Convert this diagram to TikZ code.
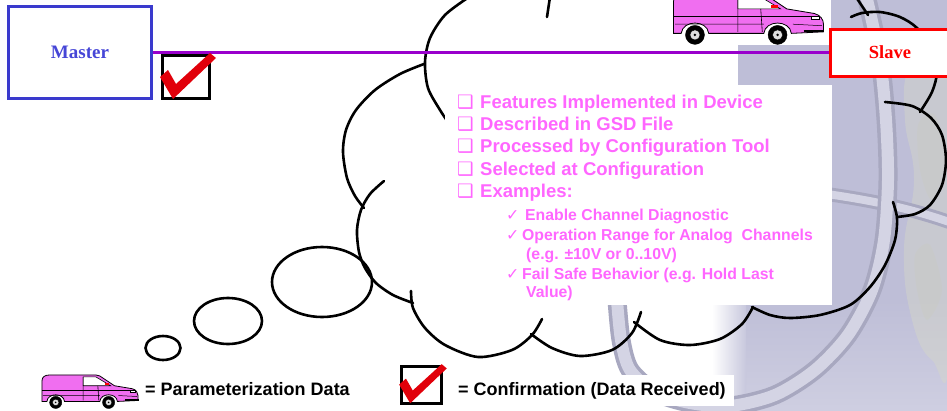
\documentclass[tikz,border=0pt]{standalone}
\usepackage{fontspec}
\setmainfont{Liberation Sans}
\newfontfamily\tnr{Liberation Serif}
\newfontfamily\dejavu{DejaVu Sans}

\definecolor{masterblue}{RGB}{58,58,205}
\definecolor{mastertext}{RGB}{70,70,215}
\definecolor{slavered}{RGB}{255,0,0}
\definecolor{busline}{RGB}{153,0,204}
\definecolor{itempink}{RGB}{255,102,255}
\definecolor{vanpink}{RGB}{240,110,240}
\definecolor{tickred}{RGB}{225,0,10}
\definecolor{lavender}{RGB}{190,190,215}
\definecolor{tubedark}{RGB}{168,168,192}
\definecolor{tubelight}{RGB}{212,212,228}
\definecolor{foam}{RGB}{214,216,200}

\begin{document}
\begin{tikzpicture}[x=1pt,y=-1pt,
  cloudline/.style={line width=2.6pt, black, line cap=round},
  bus/.style={line width=3pt, busline},
  masterbox/.style={draw=masterblue, line width=3pt, fill=white, minimum width=143pt,
    minimum height=92pt, inner sep=0pt, text=mastertext,
    font=\tnr\bfseries\fontsize{19}{20}\selectfont},
  slavebox/.style={draw=slavered, line width=3pt, fill=white, minimum width=119pt,
    minimum height=47pt, inner sep=0pt, text=slavered,
    font=\tnr\bfseries\fontsize{18.5}{20}\selectfont},
  tickbox/.style={draw=black, line width=3pt, fill=white, inner sep=0pt},
  item/.style={anchor=base west, inner sep=0pt, text=itempink,
    font=\fontsize{18.5}{20}\selectfont\bfseries},
  subitem/.style={item, font=\fontsize{15.8}{18}\selectfont\bfseries},
  legend/.style={anchor=base west, inner sep=0pt, text=black,
    font=\fontsize{18}{20}\selectfont\bfseries},
  tube/.style={line width=19pt, tubedark, line cap=round},
  tubecore/.style={line width=12pt, tubelight, line cap=round},
  tick/.pic={
    \fill[tickred] (-1,23) -- (7,16) -- (15,30) -- (49,-1) -- (55,4) -- (12,45) -- cycle;
  },
  van/.pic={
    % body
    \filldraw[fill=vanpink, draw=black, line width=0.8pt]
      (1,26) -- (1,8) .. controls (1,4) and (4,2) .. (9,2) -- (56,2) -- (60,3)
      -- (75,13) -- (93,16) .. controls (97,17) and (99,20) .. (99,23) -- (99,28)
      -- (78,29) .. controls (77,20) and (61,20) .. (60,29) -- (24,29)
      .. controls (23,20) and (7,20) .. (6,29) -- (1,29) -- cycle;
    % windows and door lines
    \filldraw[fill=white, draw=black, line width=0.6pt]
      (43,4) -- (56,4) -- (71,13) -- (43,13) -- cycle;
    \draw[line width=0.6pt] (43,4) -- (43,28) (58,13) -- (59,28);
    % side trim
    \draw[line width=0.9pt] (1,18) -- (96,18);
    \draw[line width=0.5pt] (2,23) -- (60,23) (79,23) -- (98,24);
    % headlight, bumper, mirror
    \filldraw[fill=white, draw=black, line width=0.5pt] (91,17.5) rectangle (96,20);
    \draw[line width=1.2pt] (86,27.5) -- (99.5,27.5);
    \fill[red] (65,10.5) rectangle (69,12.5);
    % wheels
    \foreach \wx in {15,69} {
      \filldraw[fill=black, draw=black] (\wx,30) circle[radius=6.2];
      \filldraw[fill=white!75!gray, draw=black, line width=0.4pt] (\wx,30) circle[radius=3.3];
      \fill[black] (\wx,30) circle[radius=0.9];
    }
  }
]
\clip (0,0) rectangle (947,410);
\fill[white] (0,0) rectangle (947,410);

% photo backdrop on the right
\fill[lavender] (738,0) rectangle (947,410);
\shade[top color=lavender, bottom color=lavender!75!white] (738,300) rectangle (947,410);
\shade[left color=white, right color=lavender!85!white] (712,305) rectangle (746,410);
\fill[foam, opacity=0.45] plot[smooth cycle, tension=0.8] coordinates
  {(908,70) (930,60) (950,70) (950,350) (932,360) (912,320) (904,250) (914,180) (905,120)};
\fill[foam!85!gray, opacity=0.3] plot[smooth cycle] coordinates
  {(918,125) (935,115) (945,160) (932,200) (920,170)};
\fill[foam!85!gray, opacity=0.3] plot[smooth cycle] coordinates
  {(915,255) (930,245) (942,290) (927,320) (917,290)};

% tubing
\draw[tube, line width=14pt] (820,193) .. controls (870,200) and (910,208) .. (955,224);
\draw[tubecore, line width=8pt] (820,193) .. controls (870,200) and (910,208) .. (955,224);
\draw[tube] plot[smooth] coordinates {(617,300) (621,340) (630,370) (655,392) (690,403)
  (730,406) (775,395) (815,370) (848,335) (872,290) (884,240) (888,180) (886,120)
  (880,60) (866,-5)};
\draw[tubecore] plot[smooth] coordinates {(617,300) (621,340) (630,370) (655,392) (690,403)
  (730,406) (775,395) (815,370) (848,335) (872,290) (884,240) (888,180) (886,120)
  (880,60) (866,-5)};

% van picture at the top
\fill[white] (668,0) rectangle (831,45);
\pic[scale=1.53] at (672,-11) {van};

% thought bubble
\draw[cloudline] plot[smooth] coordinates {(469,-3) (445,15) (430,38) (425,62) (428,88) (440,110) (452,128)};
\draw[cloudline] (550,-3) -- (547,17);
\draw[cloudline] plot[smooth] coordinates {(424,64) (400,74) (375,90) (356,110) (346,130) (343,152) (347,178) (355,196) (364,208)};
\draw[cloudline] plot[smooth] coordinates {(384,181) (370,194) (361,210) (357,230) (359,252) (365,268) (376,283) (393,295) (413,303)};
\draw[cloudline] plot[smooth] coordinates {(411,291) (413,308) (425,328) (445,345) (478,357) (512,350) (532,335) (542,319)};
\draw[cloudline] plot[smooth] coordinates {(531,334) (552,348) (580,356) (612,350) (632,333) (641,312)};
\draw[cloudline] plot[smooth] coordinates {(634,322) (660,340) (690,345) (720,339) (742,324) (753,307)};
\draw[cloudline] plot[smooth] coordinates {(752,307) (770,315) (790,318) (820,315) (850,305) (870,287) (885,265) (895,240) (897,218) (893,202)};
\draw[cloudline] plot[smooth] coordinates {(897,217) (915,214) (930,205) (942,185) (946,160) (942,135) (931,118) (912,106) (885,102)};
\draw[cloudline] plot[smooth] coordinates {(920,112) (932,92) (937,72) (933,50) (917,28) (900,17) (880,12) (862,13) (851,17)};
\draw[cloudline] (856,-3) -- (868,15);
\draw[cloudline] (322,282) ellipse [x radius=50, y radius=35];
\draw[cloudline] (228,321) ellipse [x radius=34, y radius=23];
\draw[cloudline] (163,348) ellipse [x radius=17.5, y radius=12];

% text panel
\fill[white] (445,85) rectangle (832,305);
\node[item] (it1) at (457,108.3) {\makebox[23pt][l]{\dejavu ❑}Features Implemented in Device};
\node[item] (it2) at (457,130.6) {\makebox[23pt][l]{\dejavu ❑}Described in GSD File};
\node[item] (it3) at (457,152.9) {\makebox[23pt][l]{\dejavu ❑}Processed by Configuration Tool};
\node[item] (it4) at (457,175.2) {\makebox[23pt][l]{\dejavu ❑}Selected at Configuration};
\node[item] (it5) at (457,197.5) {\makebox[23pt][l]{\dejavu ❑}Examples:};
\node[subitem] (ex1) at (506,220) {\makebox[19pt][l]{\dejavu ✓}Enable Channel Diagnostic};
\node[subitem] (ex2) at (506,240.5) {\makebox[16pt][l]{\dejavu ✓}Operation Range for Analog\ \ Channels};
\node[subitem] (ex2b) at (526,259) {(e.g. ±10V or 0..10V)};
\node[subitem] (ex3) at (506,279) {\makebox[16pt][l]{\dejavu ✓}Fail Safe Behavior (e.g. Hold Last};
\node[subitem] (ex3b) at (526,297.5) {Value)};

% master, slave and the bus between them
\node[masterbox] (master) at (80,52.5) {Master};
\node[slavebox] (slave) at (890,52.5) {Slave};
\draw[bus] (master.east) -- (slave.west);

% confirmation box under the bus
\node[tickbox, minimum width=47pt, minimum height=43pt] (ack) at (186,77) {};
\pic at (ack.north west) {tick};

% legend
\pic[scale=0.98] at (41,373) {van};
\node[legend] (vankey) at (145,395) {= Parameterization Data};
\node[tickbox, minimum width=40pt, minimum height=37pt] (ackkey) at (421.5,385) {};
\pic[scale=0.85] at (ackkey.north west) {tick};
\node[legend, fill=white, inner xsep=8pt, inner ysep=7pt] (ackdesc) at (450,395) {= Confirmation (Data Received)};
\end{tikzpicture}
\end{document}
